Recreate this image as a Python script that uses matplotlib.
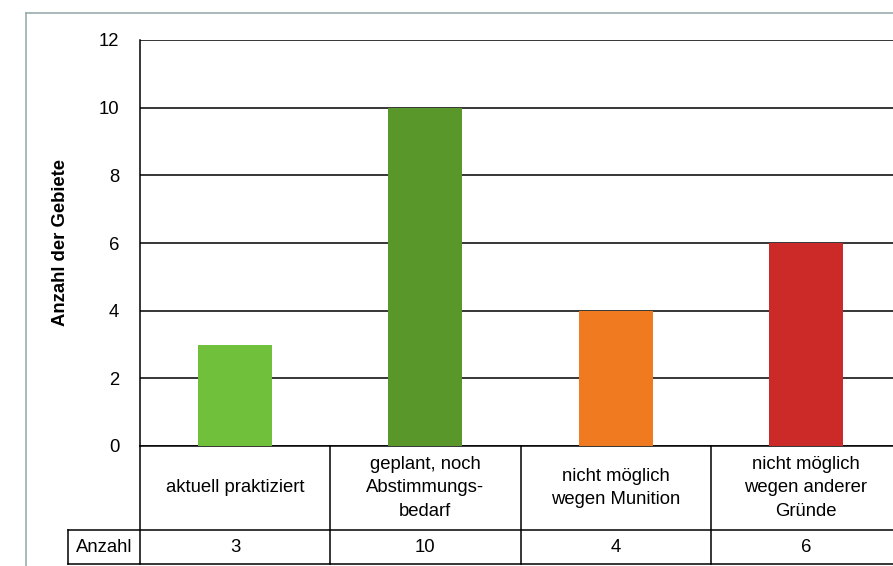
import matplotlib.pyplot as plt
from matplotlib.lines import Line2D
import matplotlib.transforms as mtransforms

plt.rcParams['font.family'] = ['Liberation Sans', 'DejaVu Sans']

categories = ['aktuell praktiziert', 'geplant, noch\nAbstimmungs-\nbedarf',
              'nicht möglich\nwegen Munition', 'nicht möglich\nwegen anderer\nGründe']
values = [3, 10, 4, 6]
colors = ['#70c03c', '#59972b', '#f07a20', '#cc2a28']
yticks = [0, 2, 4, 6, 8, 10, 12]
row_label = 'Anzahl'

fs = 13.3

fig = plt.figure(figsize=(8.93, 5.66), dpi=100)
ax = fig.add_axes([140 / 893, 120 / 566, 761 / 893, 406 / 566])

x = list(range(len(values)))
ax.bar(x, values, width=0.39, color=colors, zorder=3)
ax.set_xlim(-0.5, len(values) - 0.5)
ax.set_ylim(0, 12)
ax.set_yticks(yticks)
ax.set_xticks([])
ax.tick_params(axis='y', length=0, pad=15, labelsize=fs)
ax.yaxis.grid(True, color='black', linewidth=1.1, zorder=1)
for s in ['top', 'right']:
    ax.spines[s].set_visible(False)
ax.spines['left'].set_linewidth(1.1)
ax.spines['bottom'].set_linewidth(1.1)
ax.set_ylabel('Anzahl der Gebiete', fontsize=fs, fontweight='bold', labelpad=21)

# table below the axis
tr = mtransforms.blended_transform_factory(ax.transData, ax.transAxes)
r1 = -84 / 406
r2 = -118 / 406
xl = -0.5 - 72 / 190.25
lw = 1.1
kw = dict(color='black', linewidth=lw, transform=tr, clip_on=False)
ax.add_line(Line2D([xl, 3.5], [r1, r1], **kw))
ax.add_line(Line2D([xl, 3.5], [r2, r2], **kw))
ax.add_line(Line2D([xl, xl], [r1, r2], **kw))
for b in [-0.5, 0.5, 1.5, 2.5, 3.5]:
    ax.add_line(Line2D([b, b], [0, r2], **kw))

for i, (c, v) in enumerate(zip(categories, values)):
    ax.text(i, r1 / 2, c, transform=tr, ha='center', va='center',
            fontsize=fs, linespacing=1.5)
    ax.text(i, (r1 + r2) / 2, str(v), transform=tr, ha='center', va='center',
            fontsize=fs)
ax.text((xl - 0.5) / 2, (r1 + r2) / 2, row_label, transform=tr,
        ha='center', va='center', fontsize=fs)

# gray outer frame of the scan
fc = '#9aabab'
fig.add_artist(Line2D([26 / 893, 1], [1 - 13 / 566, 1 - 13 / 566], color=fc, linewidth=1.2))
fig.add_artist(Line2D([26 / 893, 26 / 893], [0, 1 - 13 / 566], color=fc, linewidth=1.2))

fig.savefig('out.png', dpi=100)
